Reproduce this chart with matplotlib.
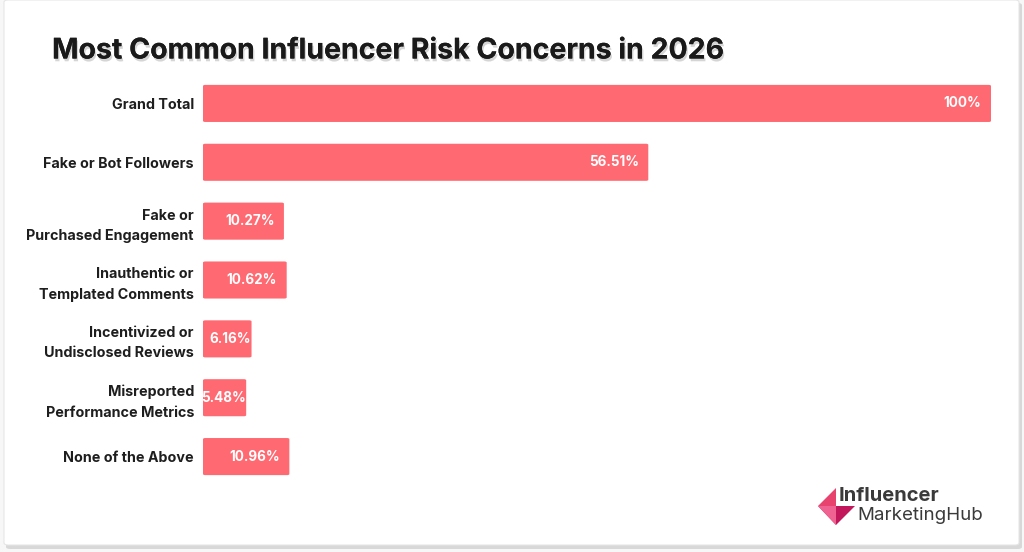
import matplotlib.pyplot as plt
from matplotlib.patches import FancyBboxPatch, Polygon
import matplotlib.patheffects as pe

categories = ['Grand Total', 'Fake or Bot Followers', 'Fake or\nPurchased Engagement',
              'Inauthentic or\nTemplated Comments', 'Incentivized or\nUndisclosed Reviews',
              'Misreported\nPerformance Metrics', 'None of the Above']
values = [100, 56.51, 10.27, 10.62, 6.16, 5.48, 10.96]
value_labels = ['100%', '56.51%', '10.27%', '10.62%', '6.16%', '5.48%', '10.96%']

title = 'Most Common Influencer Risk Concerns in 2026'
bar_color = '#FF6A72'
font = 'Inter'

W, H = 1024, 552
fig = plt.figure(figsize=(W / 100, H / 100), dpi=100)
fig.patch.set_facecolor('#f7f7f7')

# card background with shadow
shadow = FancyBboxPatch((6 / W, 3 / H), 1016 / W, 546 / H, boxstyle='round,pad=0,rounding_size=0.004',
                        transform=fig.transFigure, facecolor='#d8d8d8', edgecolor='none', zorder=-2)
card = FancyBboxPatch((4 / W, 7 / H), 1015 / W, 545 / H, boxstyle='round,pad=0,rounding_size=0.004',
                      transform=fig.transFigure, facecolor='white', edgecolor='#e6e6e6', lw=0.8, zorder=-1)
fig.patches.extend([shadow, card])

ax = fig.add_axes([203 / W, (H - 486) / H, 788 / W, (486 - 74) / H])
ax.set_facecolor('none')
ys = list(range(len(categories)))
ax.set_xlim(0, 100)
ax.set_ylim(len(categories) - 0.5, -0.5)

for y, v, lab in zip(ys, values, value_labels):
    bar = FancyBboxPatch((0, y - 0.315), v, 0.63, boxstyle='round,pad=0,rounding_size=0.3',
                         mutation_aspect=0.06, facecolor=bar_color, edgecolor='none')
    ax.add_patch(bar)
    pad = 1.2 if v > 8 else 0.1
    ax.text(v - pad, y, lab, ha='right', va='center', color='white', fontsize=9.7,
            fontweight='bold', family=font)

ax.set_yticks(ys)
ax.set_yticklabels(categories, fontsize=10.3, fontweight='bold', family=font, color='#1e1e1e',
                   linespacing=1.55)
ax.tick_params(axis='y', length=0, pad=6.5)
ax.set_xticks([])
for s in ax.spines.values():
    s.set_visible(False)

fig.text(52 / W, 1 - 51 / H, title, fontsize=20.5, fontweight='bold', family=font, color='#1a1a1a',
         va='center', ha='left',
         path_effects=[pe.withSimplePatchShadow(offset=(1, -2), shadow_rgbFace='#777777', alpha=0.3),
                       pe.Normal()])

# logo
def fp(x, y):
    return (x / W, 1 - y / H)

logo_dark = Polygon([fp(818, 506), fp(836, 488), fp(836, 506)], closed=True,
                    transform=fig.transFigure, facecolor='#e8426f', edgecolor='none')
logo_mid = Polygon([fp(818, 506), fp(836, 506), fp(855, 506), fp(836, 525)], closed=True,
                   transform=fig.transFigure, facecolor='#c2185b', edgecolor='none')
logo_light = Polygon([fp(818, 506), fp(836, 525), fp(836, 506)], closed=True,
                     transform=fig.transFigure, facecolor='#f06292', edgecolor='none')
fig.patches.extend([logo_dark, logo_mid, logo_light])
fig.text(839 / W, 1 - 496 / H, 'Influencer', fontsize=14.5, fontweight='bold', family=font,
         color='#3a3a3a', va='center', ha='left')
fig.text(857 / W, 1 - 516 / H, 'MarketingHub', fontsize=13.5, family=font,
         color='#3a3a3a', va='center', ha='left')

fig.savefig('out.png', dpi=100)
